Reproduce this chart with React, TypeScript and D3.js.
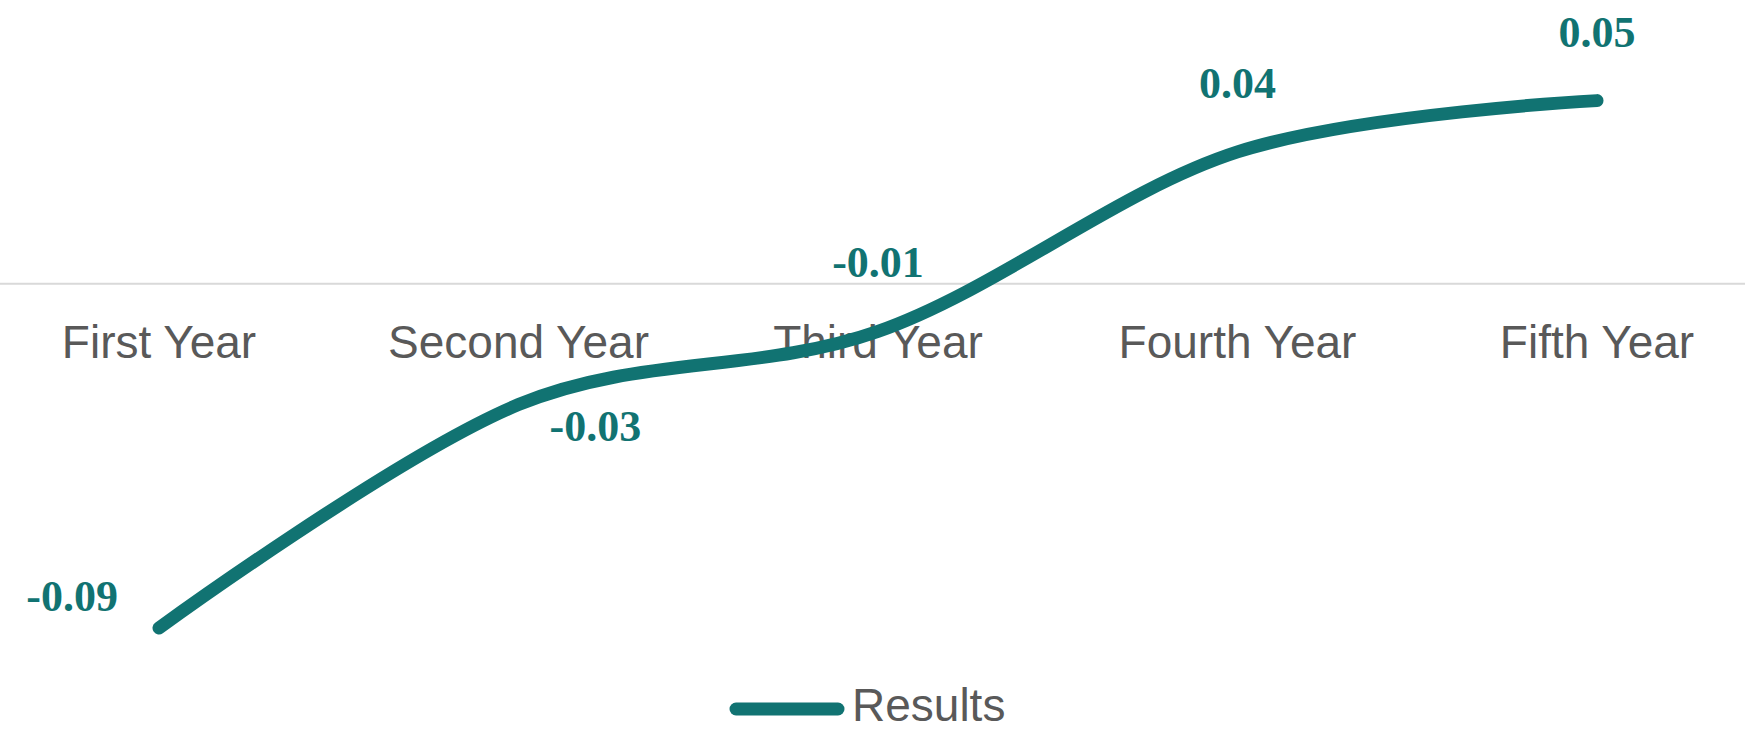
import React from "react";
import * as d3 from "d3";

const categories = ["First Year", "Second Year", "Third Year", "Fourth Year", "Fifth Year"];
const seriesName = "Results";
const values = [-0.094, -0.033, -0.013, 0.036, 0.05];
const labelPlacement = ["left", "rightBelow", "above", "above", "above"];

const W = 1745;
const H = 731;
const TEAL = "#117372";

export default function App() {
  const x = d3.scalePoint<string>().domain(categories).range([159, 1597]);
  const y = d3.scaleLinear().domain([-0.1, 0.06]).range([650, 64]);
  const line = d3
    .line<number>()
    .x((_, i) => x(categories[i]) as number)
    .y((d) => y(d))
    .curve(d3.curveCardinal.tension(0));
  const fmt = d3
    .formatLocale({ decimal: ".", thousands: ",", grouping: [3], currency: ["", ""], minus: "-" })
    .format(".2f");
  const y0 = y(0);

  return (
    <div style={{ position: "absolute", left: 0, top: 0 }}>
      <svg width={W} height={H} style={{ display: "block", background: "#fff" }}>
        <line x1={0} x2={W} y1={y0} y2={y0} stroke="#d9d9d9" strokeWidth={2} />
        {categories.map((c) => (
          <text
            key={c}
            x={x(c)}
            y={y0 + 74}
            textAnchor="middle"
            fontFamily="'Liberation Sans', Arial, sans-serif"
            fontSize={46}
            fill="#595959"
          >
            {c}
          </text>
        ))}
        <path
          d={line(values) || ""}
          fill="none"
          stroke={TEAL}
          strokeWidth={13}
          strokeLinecap="round"
          strokeLinejoin="round"
        />
        {values.map((v, i) => {
          const px = x(categories[i]) as number;
          const py = y(v);
          const pos = labelPlacement[i];
          let tx = px;
          let ty = py - 54;
          let anchor: "start" | "middle" | "end" = "middle";
          if (pos === "left") {
            tx = px - 41;
            ty = py - 17;
            anchor = "end";
          } else if (pos === "rightBelow") {
            tx = px + 31;
            ty = py + 36;
            anchor = "start";
          }
          return (
            <text
              key={i}
              x={tx}
              y={ty}
              textAnchor={anchor}
              fontFamily="'Liberation Serif', 'Times New Roman', serif"
              fontWeight="bold"
              fontSize={44}
              fill={TEAL}
            >
              {fmt(v)}
            </text>
          );
        })}
        <line x1={736} x2={838} y1={709} y2={709} stroke={TEAL} strokeWidth={13} strokeLinecap="round" />
        <text
          x={852}
          y={721}
          fontFamily="'Liberation Sans', Arial, sans-serif"
          fontSize={46}
          fill="#595959"
        >
          {seriesName}
        </text>
      </svg>
    </div>
  );
}
